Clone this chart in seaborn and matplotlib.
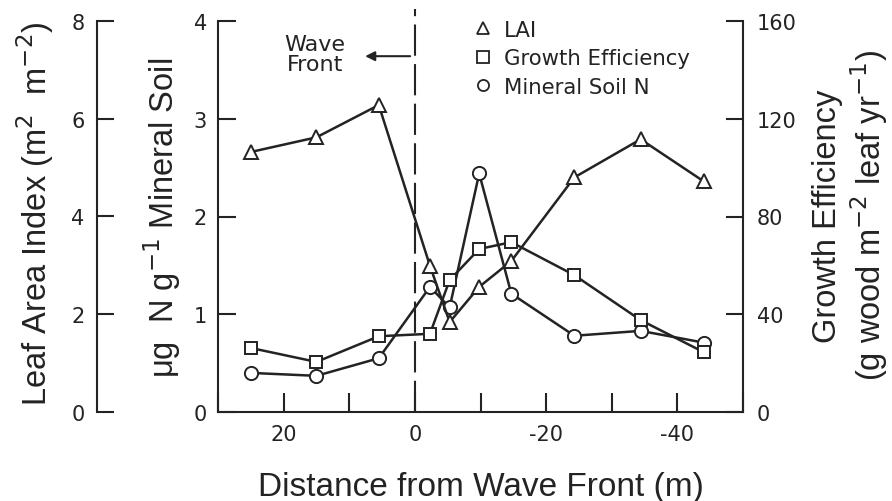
import matplotlib
matplotlib.use('Agg')
import matplotlib.pyplot as plt
from matplotlib.lines import Line2D
from matplotlib.ticker import MultipleLocator, NullFormatter
import seaborn as sns

# data (x in m from the wave front, positive = ahead)
distance = [25, 15, 5.5, -2.3, -5.3, -9.8, -14.7, -24.3, -34.4, -44]
lai = [5.32, 5.62, 6.28, 2.99, 1.84, 2.56, 3.09, 4.80, 5.58, 4.72]
growth_eff = [26.2, 20.5, 31.0, 32.0, 54.0, 66.7, 69.5, 56.0, 37.6, 24.5]
soil_n = [0.40, 0.37, 0.55, 1.28, 1.07, 2.44, 1.21, 0.78, 0.83, 0.71]

x_ticks = [20, 0, -20, -40]
lai_ticks = [0, 2, 4, 6, 8]
soil_ticks = [0, 1, 2, 3, 4]
ge_ticks = [0, 40, 80, 120, 160]
legend_labels = ['LAI', 'Growth Efficiency', 'Mineral Soil N']
WAVE_FRONT_X = 0

sns.set_style('ticks')
plt.rcParams['font.family'] = ['DejaVu Sans']
plt.rcParams['axes.unicode_minus'] = False

INK = '#232323'
LABEL_FONT = ['Liberation Sans', 'DejaVu Sans']
LABEL_SIZE = 23.5

fig = plt.figure(figsize=(8.92, 5.02), dpi=100)
fig.patch.set_facecolor('white')
ax = fig.add_axes([218/892, 89/502, 525/892, 391/502])
ax2 = ax.twinx()   # growth efficiency, right
ax3 = ax.twinx()   # LAI, outer left
for a in (ax, ax2, ax3):
    a.set_facecolor('none')
    for s in a.spines.values():
        s.set_visible(False)
        s.set_color(INK)
        s.set_linewidth(1.5)

ax.spines['left'].set_visible(True)
ax.spines['bottom'].set_visible(True)
ax2.spines['right'].set_visible(True)
ax3.spines['left'].set_visible(True)
ax3.spines['left'].set_position(('axes', (97 - 218) / 525))
ax3.yaxis.set_ticks_position('left')
ax3.yaxis.set_label_position('left')

line_kw = dict(color=INK, linewidth=1.8, markerfacecolor='white',
               markeredgecolor=INK, markeredgewidth=1.4, sort=False)
sns.lineplot(x=distance, y=soil_n, ax=ax, marker='o', markersize=9.5, **line_kw)
sns.lineplot(x=distance, y=growth_eff, ax=ax2, marker='s', markersize=9, **line_kw)
sns.lineplot(x=distance, y=lai, ax=ax3, marker='^', markersize=10, **line_kw)

ax.axvline(WAVE_FRONT_X, ymin=0, ymax=1.03, color=INK, linewidth=1.5,
           dashes=(15, 4), clip_on=False, zorder=0)

ax.set_xlim(30, -50)
ax.set_ylim(0, 4)
ax2.set_ylim(0, 160)
ax3.set_ylim(0, 8)

ax.set_xticks(x_ticks)
ax.xaxis.set_minor_locator(MultipleLocator(10))
ax.xaxis.set_minor_formatter(NullFormatter())
ax.set_yticks(soil_ticks)
ax2.set_yticks(ge_ticks)
ax3.set_yticks(lai_ticks)

tick_kw = dict(direction='in', color=INK, width=1.5, labelcolor=INK, labelsize=15)
ax.tick_params(axis='x', which='both', length=14, pad=9, **tick_kw)
ax.tick_params(axis='y', length=13, pad=8, **tick_kw)
ax2.tick_params(axis='y', length=12, pad=10, **tick_kw)
ax3.tick_params(axis='y', length=12, pad=9, **tick_kw)

for a in (ax, ax2, ax3):
    a.set_xlabel('')
    a.set_ylabel('')

ax.set_xlabel('Distance from Wave Front (m)', family=LABEL_FONT, fontsize=24,
              color=INK, labelpad=19)
fig.text(35/892, 1 - 214/502, 'Leaf Area Index (m$^2$  m$^{-2}$)', rotation=90,
         ha='center', va='center', family=LABEL_FONT, fontsize=LABEL_SIZE, color=INK)
fig.text(162/892, 1 - 218/502, '\u03bcg  N g$^{-1}$ Mineral Soil', rotation=90,
         ha='center', va='center', family=LABEL_FONT, fontsize=LABEL_SIZE, color=INK)
fig.text(851/892, 1 - 216/502,
         'Growth Efficiency\n(g wood m$^{-2}$ leaf yr$^{-1}$)', rotation=90,
         ha='center', va='center', family=LABEL_FONT, fontsize=LABEL_SIZE, color=INK,
         linespacing=1.15, multialignment='center')

# wave front marker
ax.annotate('', xy=(8.0, 3.64), xytext=(0.3, 3.64),
            arrowprops=dict(arrowstyle='-|>', color=INK, lw=1.5,
                            mutation_scale=14))
ax.text(15.2, 3.66, 'Wave\nFront', ha='center', va='center', fontsize=16,
        color=INK, linespacing=1.0)

handles = [Line2D([], [], linestyle='none', marker=m, markersize=8,
                  markerfacecolor='white', markeredgecolor=INK, markeredgewidth=1.3)
           for m in ('^', 's', 'o')]
leg = ax3.legend(handles, legend_labels, loc='upper left',
                 bbox_to_anchor=((476 - 218) / 525, 1.003), frameon=False,
                 fontsize=15.3, handlelength=0.7, handletextpad=0.6,
                 labelspacing=0.4, borderpad=0, borderaxespad=0)
for t in leg.get_texts():
    t.set_color(INK)

fig.savefig('out.png', dpi=100, facecolor='white')
